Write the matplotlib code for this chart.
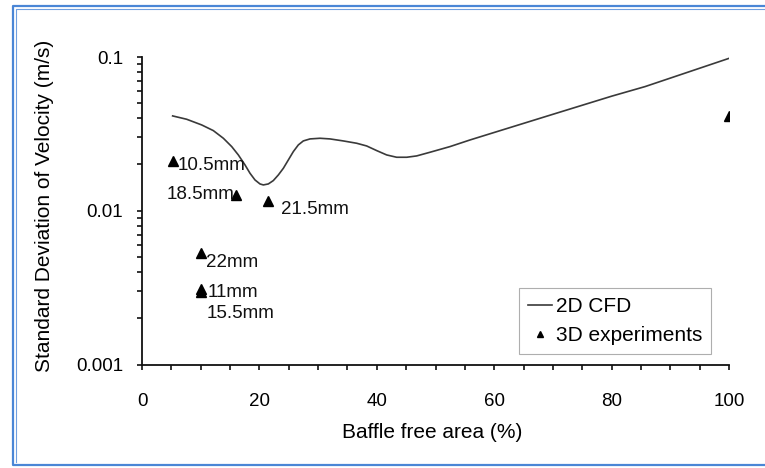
import matplotlib
matplotlib.use("Agg")
import matplotlib.pyplot as plt
from matplotlib.lines import Line2D
from matplotlib.ticker import LogLocator, FixedLocator, NullFormatter, FixedFormatter

plt.rcParams['font.family'] = ['Liberation Sans', 'DejaVu Sans']

# ---- data ----
cfd_x = [5.22, 7.61, 10.17, 12.15, 13.86, 15.28, 16.41, 17.55, 18.40, 19.25, 20.10,
         20.67, 21.52, 22.37, 23.23, 24.08, 24.93, 25.78, 26.63, 27.48, 28.62, 30.32,
         32.03, 34.30, 36.57, 38.27, 39.98, 41.68, 43.38, 45.09, 46.79, 49.06, 52.47,
         55.88, 60, 70, 80, 85.7, 90, 100]
cfd_y = [0.04138, 0.03936, 0.03615, 0.03321, 0.02961, 0.02614, 0.02307, 0.01986,
         0.01753, 0.01586, 0.01494, 0.01472, 0.01494, 0.01571, 0.01710, 0.01889,
         0.02140, 0.02425, 0.02680, 0.02845, 0.02932, 0.02961, 0.02932, 0.02845,
         0.02748, 0.02639, 0.02462, 0.02307, 0.02228, 0.02228, 0.02273, 0.02401,
         0.02614, 0.02887, 0.0323, 0.0424, 0.0556, 0.0642, 0.0729, 0.098]

exp_x = [5.2, 16.0, 21.5, 10.0, 10.0, 10.0, 100.0]
exp_y = [0.0212, 0.0127, 0.0115, 0.00534, 0.0031, 0.00295, 0.0414]
exp_labels = ['10.5mm', '18.5mm', '21.5mm', '22mm', '11mm', '15.5mm', '']

x_ticks = [0, 20, 40, 60, 80, 100]
y_ticks = [0.001, 0.01, 0.1]
y_tick_labels = ['0.001', '0.01', '0.1']

# ---- figure ----
W, H = 765, 468
fig = plt.figure(figsize=(W / 100, H / 100), dpi=100)
ax = fig.add_axes([142 / W, 1 - 364.5 / H, (729 - 142) / W, (364.5 - 57) / H])

ax.plot(cfd_x, cfd_y, color='#3a3a3a', lw=1.2, label='2D CFD')
ax.plot(exp_x, exp_y, linestyle='none', marker='^', color='black', ms=7.5,
        label='3D experiments')

# annotation offsets in points (style, not data)
offsets = {
    '10.5mm': ((3.8, -3.8), 'left'),
    '18.5mm': ((-1.0, 0.0), 'right'),
    '21.5mm': ((8.9, -5.5), 'left'),
    '22mm': ((4.1, -6.9), 'left'),
    '11mm': ((5.2, -2.5), 'left'),
    '15.5mm': ((4.5, -15.5), 'left'),
}
for xv, yv, lab in zip(exp_x, exp_y, exp_labels):
    if not lab:
        continue
    (dx, dy), ha = offsets[lab]
    ax.annotate(lab, (xv, yv), xytext=(dx, dy), textcoords='offset points',
                ha=ha, va='center', fontsize=13.5, color='#111111')

ax.set_yscale('log')
ax.set_xlim(0, 100)
ax.set_ylim(0.001, 0.1)

ax.xaxis.set_major_locator(FixedLocator(x_ticks))
ax.xaxis.set_minor_locator(FixedLocator([v for v in range(5, 100, 5) if v % 20 != 0]))
ax.yaxis.set_major_locator(FixedLocator(y_ticks))
ax.yaxis.set_major_formatter(FixedFormatter(y_tick_labels))
ax.yaxis.set_minor_locator(LogLocator(base=10, subs=range(2, 10)))
ax.yaxis.set_minor_formatter(NullFormatter())

for s in ['top', 'right']:
    ax.spines[s].set_visible(False)
for s in ['left', 'bottom']:
    ax.spines[s].set_linewidth(1.3)
    ax.spines[s].set_color('#111111')

ax.tick_params(axis='both', which='both', direction='out', length=3.6, width=1.2,
               color='#111111')
ax.tick_params(axis='x', which='major', pad=17, labelsize=13.5)
ax.tick_params(axis='y', which='major', pad=10, labelsize=13.5)

ax.set_xlabel('Baffle free area (%)', fontsize=15)
ax.xaxis.set_label_coords((432.5 - 142) / 587, -(433 - 364.5) / 307.5)
ax.xaxis.label.set_va('center')
ax.set_ylabel('Standard Deviation of Velocity (m/s)', fontsize=15)
ax.yaxis.set_label_coords((45 - 142) / 587, (364.5 - 205.7) / 307.5)
ax.yaxis.label.set_va('center')

leg = ax.legend(loc='lower right', bbox_to_anchor=(0.970, 0.034), borderaxespad=0,
                fontsize=15, frameon=True, fancybox=False, handlelength=1.15,
                handletextpad=0.2, borderpad=0.42, labelspacing=0.5,
                markerscale=0.65)
leg.get_frame().set_edgecolor('#9a9a9a')
leg.get_frame().set_linewidth(0.8)

# blue frame around the picture
def fx(px):
    return px / W

def fy(py):
    return 1 - py / H

fig.add_artist(Line2D([fx(790), fx(12.5), fx(12.5), fx(790)],
                      [fy(5.5), fy(5.5), fy(465), fy(465)],
                      transform=fig.transFigure, color='#4a86d6', lw=1.6))
fig.add_artist(Line2D([fx(790), fx(15.8), fx(15.8)],
                      [fy(9), fy(9), fy(462)],
                      transform=fig.transFigure, color='#6f9fe0', lw=0.8))

fig.savefig('out.png', dpi=100)
